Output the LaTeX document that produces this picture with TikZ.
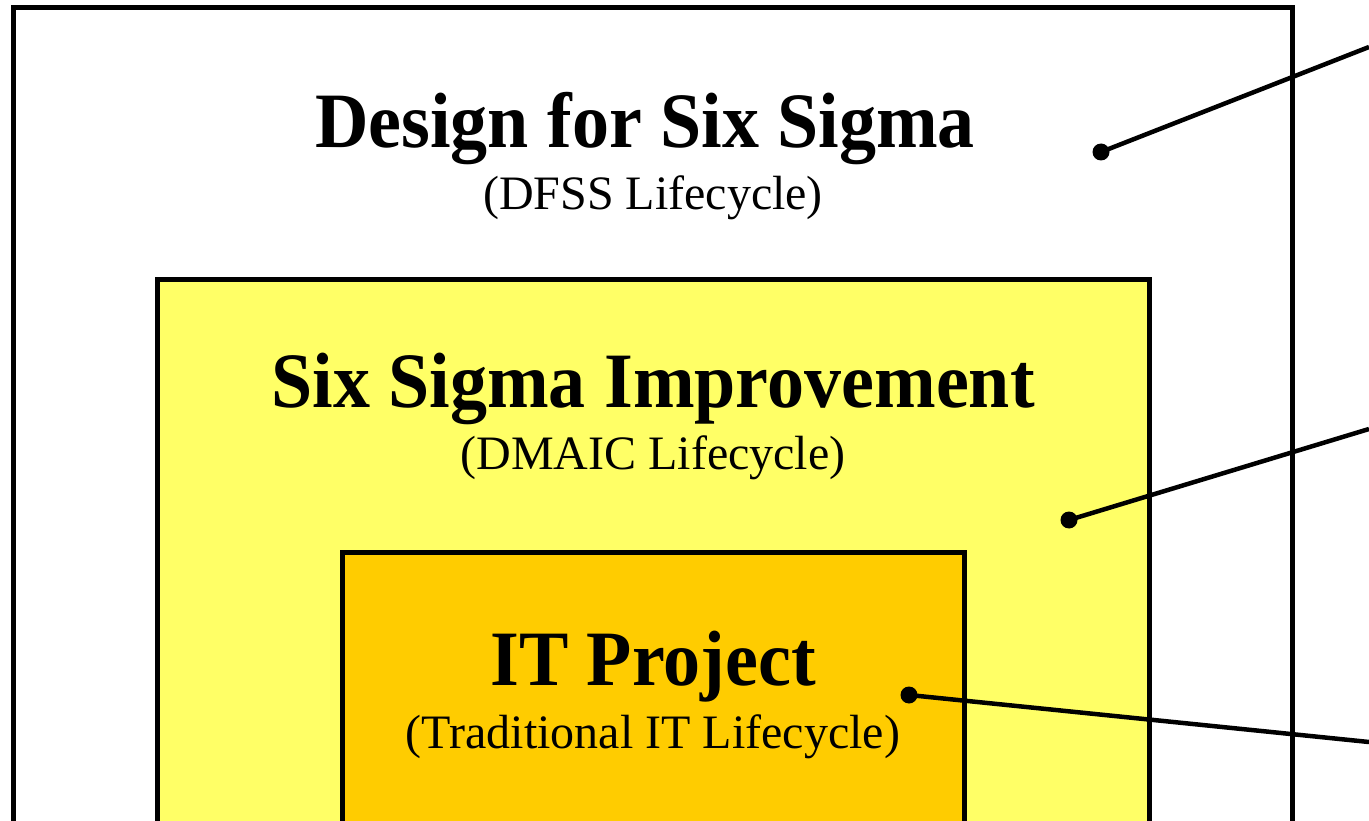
\documentclass[tikz,border=0pt]{standalone}
\usepackage{fontspec}
\setmainfont{Liberation Serif}
\definecolor{dmaicyellow}{HTML}{FFFF66}
\definecolor{itorange}{HTML}{FFCC00}
\tikzset{
  frame/.style={draw=black, line width=5pt, inner sep=0pt, outer sep=0pt},
  title/.style={anchor=base, inner sep=0pt, yscale=1.06, font=\fontsize{74}{80}\selectfont\bfseries},
  subtitle/.style={anchor=base, inner sep=0pt, font=\fontsize{48}{52}\selectfont},
  dot/.style={circle, fill=black, inner sep=0pt, minimum size=17pt},
  leader/.style={draw=black, line width=4.5pt}
}
\begin{document}
\begin{tikzpicture}[x=1pt,y=-1pt]
\useasboundingbox (0,0) rectangle (1369,821);
\clip (0,0) rectangle (1369,821);
\fill[white] (0,0) rectangle (1369,821);
% boxes (extend below the visible area)
\node[frame, fill=white, minimum width=1279pt, minimum height=1000pt, anchor=north west] (dfss) at (13,8) {};
\node[frame, fill=dmaicyellow, minimum width=992pt, minimum height=700pt, anchor=north west] (dmaic) at (157,280) {};
\node[frame, fill=itorange, minimum width=622pt, minimum height=500pt, anchor=north west] (it) at (342,552) {};
% texts
\node[title] (t1) at (645,148) {Design for Six Sigma};
\node[subtitle] (s1) at (653,210) {(DFSS Lifecycle)};
\node[title] (t2) at (653,407) {Six Sigma Improvement};
\node[subtitle] (s2) at (653,469) {(DMAIC Lifecycle)};
\node[title] (t3) at (653,685) {IT Project};
\node[subtitle] (s3) at (653,748) {(Traditional IT Lifecycle)};
% leaders
\node[dot] (d1) at (1101,152) {};
\node[dot] (d2) at (1069,520) {};
\node[dot] (d3) at (909,695) {};
\coordinate (e1) at (1369,47);
\coordinate (e2) at (1369,429);
\coordinate (e3) at (1369,742);
\draw[leader] (d1.center) -- (e1);
\draw[leader] (d2.center) -- (e2);
\draw[leader] (d3.center) -- (e3);
\end{tikzpicture}
\end{document}
